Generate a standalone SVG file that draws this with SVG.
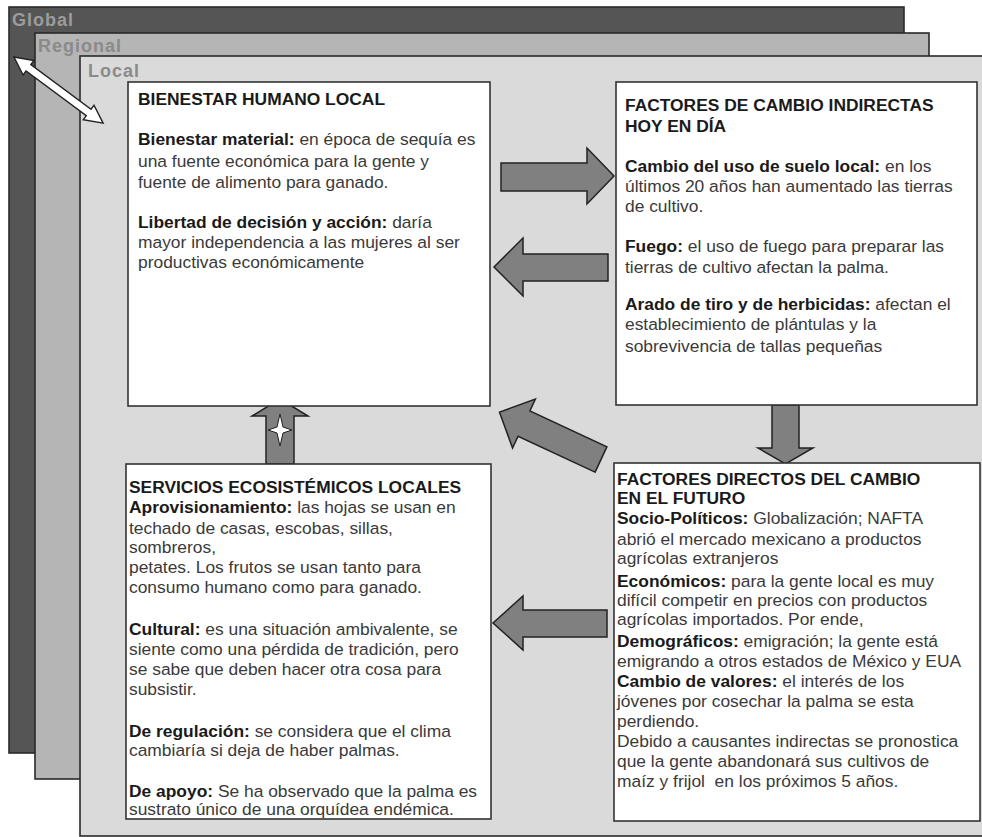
<svg xmlns="http://www.w3.org/2000/svg" width="982" height="837" viewBox="0 0 982 837">
<style>
.t{font-family:"Liberation Sans",Arial,sans-serif;font-size:17.4px;fill:#3a3a3a}
.b{font-weight:bold;fill:#1a1a1a}
.lbl{font-family:"Liberation Sans",Arial,sans-serif;font-size:18px;font-weight:bold;letter-spacing:1px}
.box{fill:#fff;stroke:#333;stroke-width:1.6}
.arr{fill:#808080;stroke:#222;stroke-width:1.5;stroke-linejoin:miter}
.layer{stroke:#2a2a2a;stroke-width:1.6}
</style>
<g id="layers">
<rect class="layer" x="9" y="7" width="895" height="746" fill="#555555"/>
<text class="lbl" x="12" y="26" fill="#9c9c9c">Global</text>
<rect class="layer" x="35" y="33" width="894" height="746" fill="#b5b5b5"/>
<text class="lbl" x="38" y="52" fill="#8a8a8a">Regional</text>
<rect class="layer" x="80" y="56" width="903" height="780" fill="#dadada"/>
<text class="lbl" x="88" y="77" fill="#8a8a8a">Local</text>
</g>
<g id="connectors">
<polygon transform="translate(14,57) rotate(36.6)" points="0,0 18,-9 18,-4 93,-4 93,-9 111,0 93,9 93,4 18,4 18,9" fill="#fff" stroke="#222" stroke-width="1.4"/>
<polygon class="arr" points="501,163 587,163 587,148 614,176 587,204 587,191 501,191"/>
<polygon class="arr" points="608,254 523,254 523,238 494,267 523,296 523,281 608,281"/>
<polygon class="arr" points="266,464 266,416 252,416 280,399 308,416 294,416 294,464"/>
<polygon points="280,414 283,427 292,430 283,433 280,446 277,433 268,430 277,427" fill="#fff" stroke="#222" stroke-width="1"/>
<polygon class="arr" transform="translate(601,459.5) rotate(205)" points="0,-14 85,-14 85,-27 112,0 85,27 85,14 0,14"/>
<polygon class="arr" points="772,405 799,405 799,448 813,448 785.5,464 758,448 772,448"/>
<polygon class="arr" points="607,610 523,610 523,596 493,623 523,650 523,637 607,637"/>
</g>
<g id="bienestar">
<rect class="box" x="128" y="82" width="362" height="324"/>
<text class="t" x="138"><tspan class="b" y="105">BIENESTAR HUMANO LOCAL</tspan>
<tspan x="138" y="145"><tspan class="b">Bienestar material:</tspan> en época de sequía es</tspan>
<tspan x="138" y="167">una fuente económica para la gente y</tspan>
<tspan x="138" y="188">fuente de alimento para ganado.</tspan>
<tspan x="138" y="228"><tspan class="b">Libertad de decisión y acción:</tspan> daría</tspan>
<tspan x="138" y="248">mayor independencia a las mujeres al ser</tspan>
<tspan x="138" y="268">productivas económicamente</tspan></text>
</g>
<g id="indirectos">
<rect class="box" x="616" y="82" width="361" height="323"/>
<text class="t"><tspan class="b" x="625" y="110.5">FACTORES DE CAMBIO INDIRECTAS</tspan>
<tspan class="b" x="625" y="131.5">HOY EN DÍA</tspan>
<tspan x="625" y="171.5"><tspan class="b">Cambio del uso de suelo local:</tspan> en los</tspan>
<tspan x="625" y="191.5">últimos 20 años han aumentado las tierras</tspan>
<tspan x="625" y="211.5">de cultivo.</tspan>
<tspan x="625" y="251.5"><tspan class="b">Fuego:</tspan> el uso de fuego para preparar las</tspan>
<tspan x="625" y="273">tierras de cultivo afectan la palma.</tspan>
<tspan x="625" y="310"><tspan class="b">Arado de tiro y de herbicidas:</tspan> afectan el</tspan>
<tspan x="625" y="330">establecimiento de plántulas y la</tspan>
<tspan x="625" y="351.5">sobrevivencia de tallas pequeñas</tspan></text>
</g>
<g id="servicios">
<rect class="box" x="126" y="464" width="365" height="355"/>
<text class="t"><tspan class="b" x="129" y="493">SERVICIOS ECOSISTÉMICOS LOCALES</tspan>
<tspan x="129" y="512.5"><tspan class="b">Aprovisionamiento:</tspan> las hojas se usan en</tspan>
<tspan x="129" y="534">techado de casas, escobas, sillas,</tspan>
<tspan x="129" y="552.5">sombreros,</tspan>
<tspan x="129" y="572.5">petates. Los frutos se usan tanto para</tspan>
<tspan x="129" y="593">consumo humano como para ganado.</tspan>
<tspan x="129" y="635"><tspan class="b">Cultural:</tspan> es una situación ambivalente, se</tspan>
<tspan x="129" y="654.5">siente como una pérdida de tradición, pero</tspan>
<tspan x="129" y="675">se sabe que deben hacer otra cosa para</tspan>
<tspan x="129" y="695">subsistir.</tspan>
<tspan x="129" y="736.5"><tspan class="b">De regulación:</tspan> se considera que el clima</tspan>
<tspan x="129" y="756">cambiaría si deja de haber palmas.</tspan>
<tspan x="129" y="796.5"><tspan class="b">De apoyo:</tspan> Se ha observado que la palma es</tspan>
<tspan x="129" y="815">sustrato único de una orquídea endémica.</tspan></text>
</g>
<g id="directos">
<rect class="box" x="614" y="463" width="366" height="358"/>
<text class="t" xml:space="preserve"><tspan class="b" x="617" y="485">FACTORES DIRECTOS DEL CAMBIO</tspan><tspan class="b" x="617" y="504">EN EL FUTURO</tspan><tspan x="617" y="524"><tspan class="b">Socio-Políticos:</tspan> Globalización; NAFTA</tspan><tspan x="617" y="545">abrió el mercado mexicano a productos</tspan><tspan x="617" y="564">agrícolas extranjeros</tspan><tspan x="617" y="586.5"><tspan class="b">Económicos:</tspan> para la gente local es muy</tspan><tspan x="617" y="606">difícil competir en precios con productos</tspan><tspan x="617" y="625">agrícolas importados. Por ende,</tspan><tspan x="617" y="646.5"><tspan class="b">Demográficos:</tspan> emigración; la gente está</tspan><tspan x="617" y="666.5">emigrando a otros estados de México y EUA</tspan><tspan x="617" y="687"><tspan class="b">Cambio de valores:</tspan> el interés de los</tspan><tspan x="617" y="706.5">jóvenes por cosechar la palma se esta</tspan><tspan x="617" y="727">perdiendo.</tspan><tspan x="617" y="747">Debido a causantes indirectas se pronostica</tspan><tspan x="617" y="766.5">que la gente abandonará sus cultivos de</tspan><tspan x="617" y="786.5">maíz y frijol  en los próximos 5 años.</tspan></text>
</g>
</svg>
